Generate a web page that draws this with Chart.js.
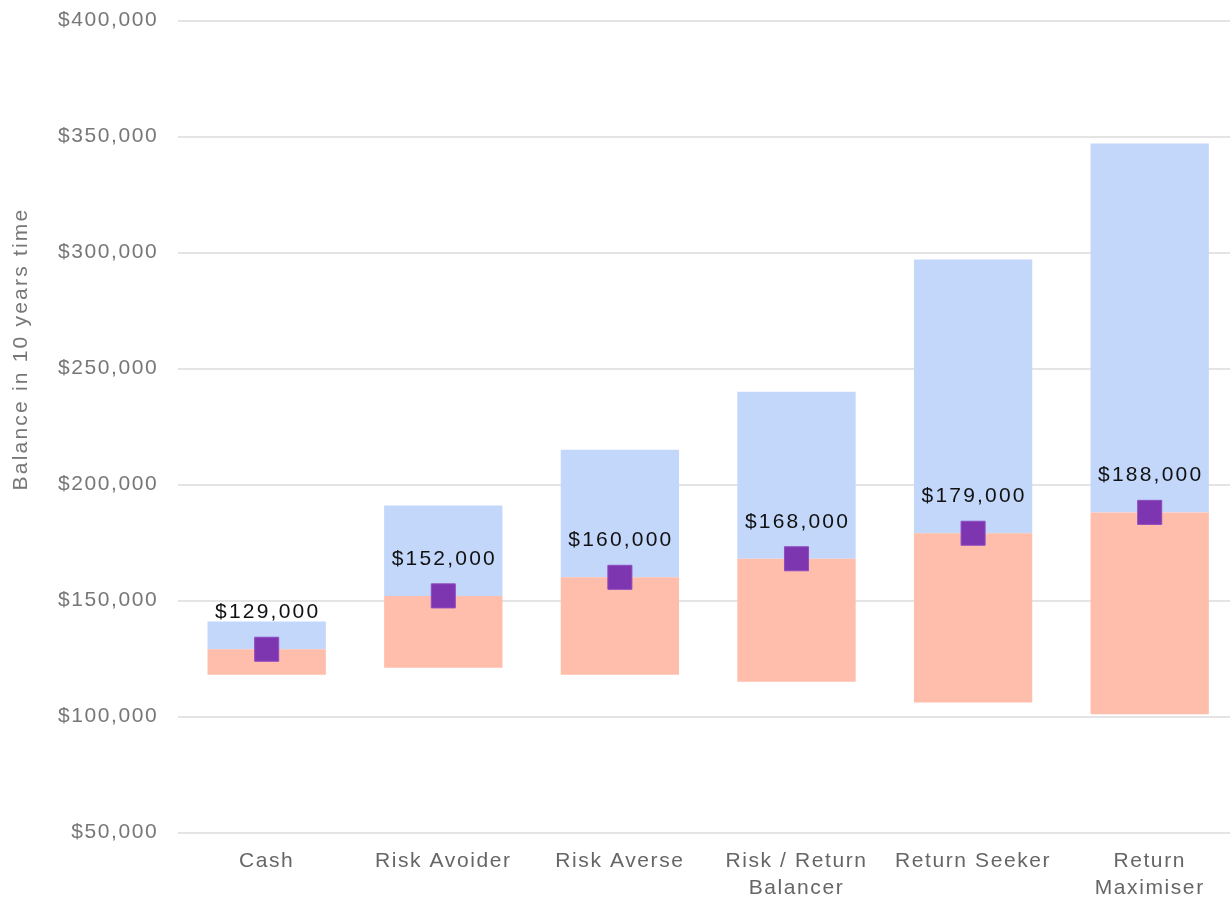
<!DOCTYPE html>
<html>
<head>
<meta charset="utf-8">
<script src="https://cdn.jsdelivr.net/npm/chart.js@4"></script>
<style>
  body { margin: 0; overflow: hidden; background: #fff; }
</style>
</head>
<body>
<canvas id="balanceChart" width="1256" height="900"></canvas>
<script>
const categories = ['Cash', 'Risk Avoider', 'Risk Averse', ['Risk / Return', 'Balancer'], 'Return Seeker', ['Return', 'Maximiser']];
const lowValues = [118000, 121000, 118000, 115000, 106000, 101000];
const medianValues = [129000, 152000, 160000, 168000, 179000, 188000];
const highValues = [141000, 191000, 215000, 240000, 297000, 347000];
const yTitle = 'Balance in 10 years time';

const FONT = 'Liberation Sans, Arial, sans-serif';
const SPACING = '1.6px';
const NUM_SPACING = '2.2px';
const money = (v) => '$' + v.toLocaleString('en-US');

// canvas letter spacing (reset whenever the canvas is resized)
const spacing = {
  id: 'spacing',
  beforeUpdate(chart) { chart.ctx.letterSpacing = SPACING; },
  beforeDraw(chart) { chart.ctx.letterSpacing = SPACING; },
  beforeDatasetsDraw(chart) { chart.ctx.letterSpacing = SPACING; },
};

// y title sits a little above the middle of the plot in the original
const sideTitle = {
  id: 'sideTitle',
  afterDraw(chart) {
    const ctx = chart.ctx;
    ctx.save();
    ctx.letterSpacing = NUM_SPACING;
    ctx.font = '21px ' + FONT;
    ctx.fillStyle = '#777';
    ctx.textAlign = 'center';
    ctx.textBaseline = 'middle';
    ctx.translate(21, 350);
    ctx.rotate(-Math.PI / 2);
    ctx.fillText(yTitle, 1, 0);
    ctx.restore();
  },
};

const medianLabels = {
  id: 'medianLabels',
  afterDatasetsDraw(chart) {
    const ctx = chart.ctx;
    const meta = chart.getDatasetMeta(0);
    ctx.save();
    ctx.letterSpacing = NUM_SPACING;
    ctx.font = '21px ' + FONT;
    ctx.fillStyle = '#111';
    ctx.textAlign = 'center';
    ctx.textBaseline = 'middle';
    meta.data.forEach((pt, i) => {
      ctx.fillText(money(medianValues[i]), pt.x + 1, pt.y - 37);
    });
    ctx.restore();
  },
};

const data = {
  labels: categories,
  datasets: [
    {
      type: 'line',
      label: 'Median',
      data: medianValues,
      showLine: false,
      pointStyle: 'rect',
      pointRadius: 17,
      pointHoverRadius: 17,
      pointBackgroundColor: '#7E35B0',
      pointBorderColor: '#8E4CC0',
      pointBorderWidth: 1,
      order: 0,
    },
    {
      type: 'bar',
      label: 'Upper',
      data: medianValues.map((m, i) => [m, highValues[i]]),
      backgroundColor: '#C3D7FB',
      grouped: false,
      order: 2,
    },
    {
      type: 'bar',
      label: 'Lower',
      data: lowValues.map((l, i) => [l, medianValues[i]]),
      backgroundColor: '#FFBEAB',
      grouped: false,
      order: 1,
    },
  ],
};

const config = {
  type: 'bar',
  data: data,
  options: {
    responsive: false,
    animation: false,
    layout: { padding: { top: 0, right: 4, left: 50, bottom: -9 } },
    datasets: {
      bar: { categoryPercentage: 1, barPercentage: 0.67 },
    },
    plugins: {
      legend: { display: false },
      tooltip: { enabled: false },
    },
    scales: {
      x: {
        grid: { display: false },
        border: { display: false },
        ticks: {
          color: '#666',
          font: { family: FONT, size: 21, lineHeight: 1.25 },
          padding: 8,
          maxRotation: 0,
          autoSkip: false,
        },
      },
      y: {
        min: 50000,
        max: 400000,
        border: { display: false },
        grid: { color: '#e4e4e4', lineWidth: 2, drawTicks: true, tickLength: 12, tickColor: 'rgba(0,0,0,0)' },
        ticks: {
          stepSize: 50000,
          color: '#777',
          padding: 8,
          font: { family: FONT, size: 21 },
          callback: (v) => money(v),
        },
      },
    },
  },
  plugins: [spacing, medianLabels, sideTitle],
};

const balanceChart = new Chart(document.getElementById('balanceChart'), config);
</script>
</body>
</html>
